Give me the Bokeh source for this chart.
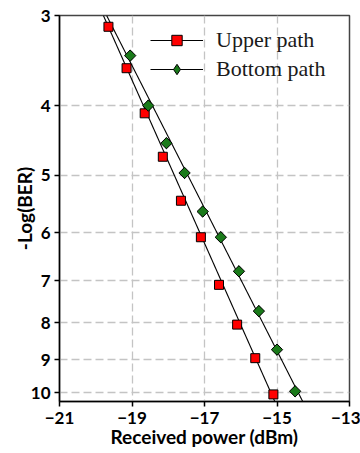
import numpy as np
from bokeh.plotting import figure
from bokeh.models import Range1d, FixedTicker, Legend, LegendItem, CustomJSTickFormatter
from bokeh.embed import file_html
from bokeh.resources import INLINE

# ---- data ----
upper_power = [-19.65, -19.15, -18.65, -18.15, -17.65, -17.1, -16.6, -16.1, -15.6, -15.1]
upper_logber = [3.11, 3.55, 4.10, 4.71, 5.42, 6.09, 7.09, 8.05, 8.96, 10.06]
bottom_power = [-19.05, -18.55, -18.05, -17.55, -17.05, -16.55, -16.05, -15.5, -15.0, -14.5]
bottom_logber = [3.41, 4.00, 4.51, 4.96, 5.61, 6.09, 6.79, 7.71, 8.72, 9.96]

upper_fit_power = [-19.79, -15.06]
upper_fit_logber = [3.0, 10.29]
bottom_fit_power = [-19.70, -14.29]
bottom_fit_logber = [3.0, 10.29]

x_ticks = [-21, -19, -17, -15, -13]
y_ticks = [3, 4, 5, 6, 7, 8, 9, 10]
series_names = ["Upper path", "Bottom path"]

p = figure(width=360, height=453,
           x_range=Range1d(-21, -13), y_range=Range1d(10.29, 3),
           y_axis_type="log", output_backend="svg", toolbar_location=None,
           min_border_left=59, min_border_right=11, min_border_top=15, min_border_bottom=52)

p.background_fill_color = "white"
p.border_fill_color = "white"
p.outline_line_color = "#444444"
p.outline_line_width = 1.5

font = "Lato"
for ax in (p.xaxis[0], p.yaxis[0]):
    ax.axis_line_color = "black"
    ax.axis_line_width = 1.5
    ax.major_tick_line_color = "black"
    ax.major_tick_line_width = 1.5
    ax.major_tick_out = 5
    ax.major_tick_in = 0
    ax.minor_tick_line_color = None
    ax.major_label_text_font = font
    ax.major_label_text_font_style = "bold"
    ax.major_label_text_font_size = "17px"
    ax.major_label_text_color = "black"
    ax.axis_label_text_font = font
    ax.axis_label_text_font_style = "bold"
    ax.axis_label_text_font_size = "19px"
    ax.axis_label_text_color = "black"

p.xaxis.ticker = FixedTicker(ticks=x_ticks)
p.yaxis.ticker = FixedTicker(ticks=y_ticks, minor_ticks=[])
p.yaxis.formatter = CustomJSTickFormatter(code="return tick.toFixed(0);")
p.xaxis.axis_label = "Received power (dBm)"
p.yaxis.axis_label = "-Log(BER)"
p.xaxis.major_label_standoff = 5
p.yaxis.major_label_standoff = 4
p.xaxis.axis_label_standoff = -2
p.yaxis.axis_label_standoff = -8

p.xgrid.ticker = FixedTicker(ticks=x_ticks)
p.ygrid.ticker = FixedTicker(ticks=y_ticks, minor_ticks=[])
for g in (p.xgrid[0], p.ygrid[0]):
    g.grid_line_color = "#c4c4c4"
    g.grid_line_width = 1.3
    g.grid_line_dash = "8 4"

l_up = p.line(upper_fit_power, upper_fit_logber, line_color="black", line_width=1.1)
l_bo = p.line(bottom_fit_power, bottom_fit_logber, line_color="black", line_width=1.1)
s_up = p.scatter(upper_power, upper_logber, marker="square", size=9,
                 fill_color="#ff0000", line_color="black", line_width=1)
# diamond key for the legend, drawn underneath the (rotated-square) diamonds
s_bo_key = p.scatter(bottom_power, bottom_logber, marker="diamond", size=11,
                     fill_color="#1a7a1a", line_color="black", line_width=1)
s_bo = p.scatter(bottom_power, bottom_logber, marker="square", size=8, angle=np.pi / 4,
                 fill_color="#1a7a1a", line_color="black", line_width=1)

legend = Legend(items=[LegendItem(label=series_names[0], renderers=[l_up, s_up]),
                       LegendItem(label=series_names[1], renderers=[l_bo, s_bo_key])],
                location=(91, 319))
legend.background_fill_alpha = 0
legend.border_line_alpha = 0
legend.padding = 0
legend.margin = 0
legend.spacing = 3
legend.glyph_width = 53
legend.glyph_height = 26
legend.label_height = 20
legend.label_standoff = 13
legend.label_text_font = "Liberation Serif"
legend.label_text_font_size = "22px"
legend.label_text_color = "#1a1a1a"
p.add_layout(legend, "center")

open("out.html", "w").write(file_html(p, INLINE))
